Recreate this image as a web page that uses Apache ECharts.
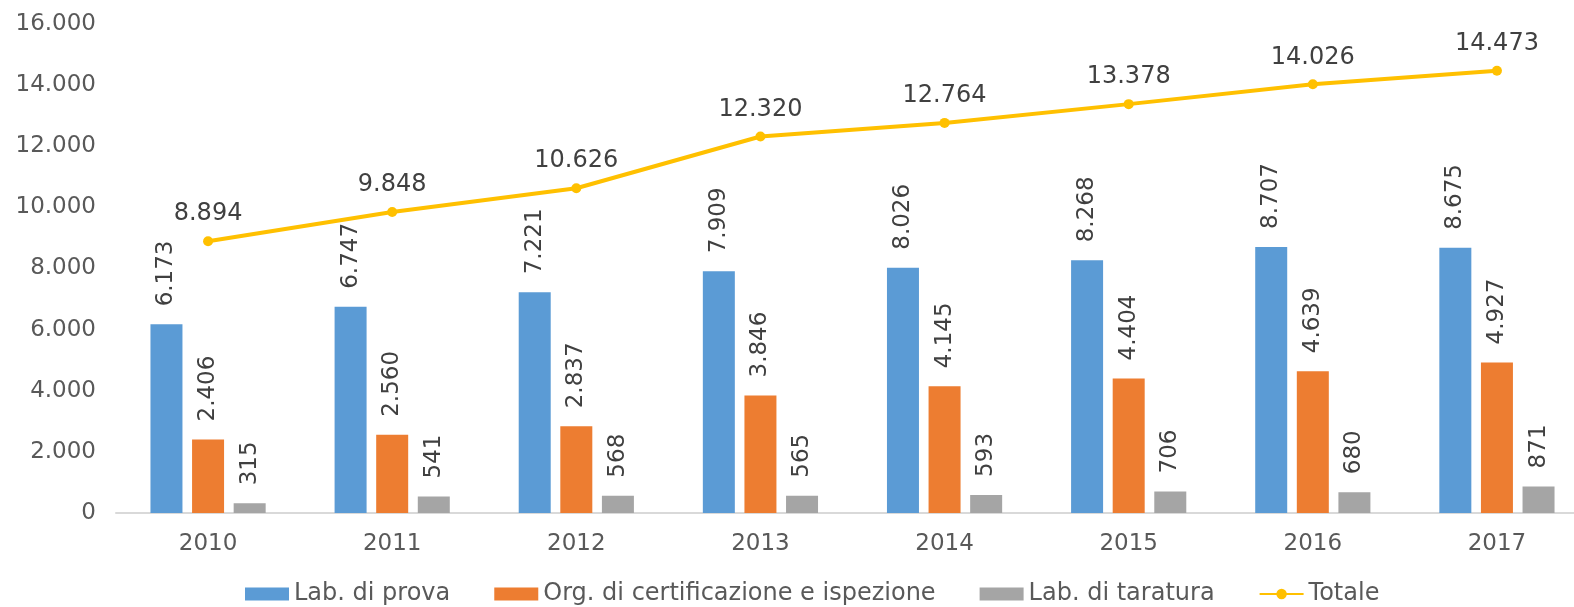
<!DOCTYPE html>
<html>
<head>
<meta charset="utf-8">
<script src="https://cdn.jsdelivr.net/npm/echarts@6/dist/echarts.min.js"></script>
<style>
html, body { margin: 0; padding: 0; background: #fff; }
#chart { width: 1574px; height: 607px; }
</style>
</head>
<body>
<div id="chart"></div>
<script>
const years = ['2010', '2011', '2012', '2013', '2014', '2015', '2016', '2017'];
const labProva = [6173, 6747, 7221, 7909, 8026, 8268, 8707, 8675];
const orgCert = [2406, 2560, 2837, 3846, 4145, 4404, 4639, 4927];
const labTaratura = [315, 541, 568, 565, 593, 706, 680, 871];
const totale = [8894, 9848, 10626, 12320, 12764, 13378, 14026, 14473];

const FONT = 'DejaVu Sans';
const fmt = v => String(v).replace(/\B(?=(\d{3})+(?!\d))/g, '.');

const barLabel = {
    show: true,
    position: 'top',
    rotate: 90,
    align: 'left',
    verticalAlign: 'middle',
    distance: 18,
    fontFamily: FONT,
    fontSize: 23,
    color: '#404040',
    formatter: p => fmt(p.value)
};

function barSeries(name, data, color) {
    return {
        name: name,
        type: 'bar',
        data: data,
        barWidth: 32,
        barGap: '30%',
        itemStyle: { color: color },
        label: barLabel
    };
}

const chart = echarts.init(document.getElementById('chart'));
chart.setOption({
    animation: false,
    grid: { left: 116, top: 24, width: 1473, height: 489, outerBoundsMode: 'none', containLabel: false },
    legend: {
        left: 240,
        top: 577,
        itemWidth: 44,
        itemHeight: 13,
        itemGap: 44,
        textStyle: { fontFamily: FONT, fontSize: 24, color: '#595959' },
        data: [
            { name: 'Lab. di prova', icon: 'rect' },
            { name: 'Org. di certificazione e ispezione', icon: 'rect' },
            { name: 'Lab. di taratura', icon: 'rect' },
            { name: 'Totale' }
        ]
    },
    xAxis: {
        type: 'category',
        data: years,
        axisLine: { lineStyle: { color: '#D9D9D9', width: 2 } },
        axisTick: { show: false },
        axisLabel: { fontFamily: FONT, fontSize: 23, color: '#595959', margin: 20 }
    },
    yAxis: {
        type: 'value',
        min: 0,
        max: 16000,
        interval: 2000,
        splitLine: { show: false },
        axisLine: { show: false },
        axisTick: { show: false },
        axisLabel: { fontFamily: FONT, fontSize: 23, color: '#595959', margin: 20, formatter: fmt }
    },
    series: [
        barSeries('Lab. di prova', labProva, '#5B9BD5'),
        barSeries('Org. di certificazione e ispezione', orgCert, '#ED7D31'),
        barSeries('Lab. di taratura', labTaratura, '#A5A5A5'),
        {
            name: 'Totale',
            type: 'line',
            data: totale,
            symbol: 'circle',
            symbolSize: 10,
            lineStyle: { color: '#FFC000', width: 4 },
            itemStyle: { color: '#FFC000' },
            label: {
                show: true,
                position: 'top',
                distance: 10,
                fontFamily: FONT,
                fontSize: 24,
                color: '#404040',
                formatter: p => fmt(p.value)
            }
        }
    ]
});
</script>
</body>
</html>
